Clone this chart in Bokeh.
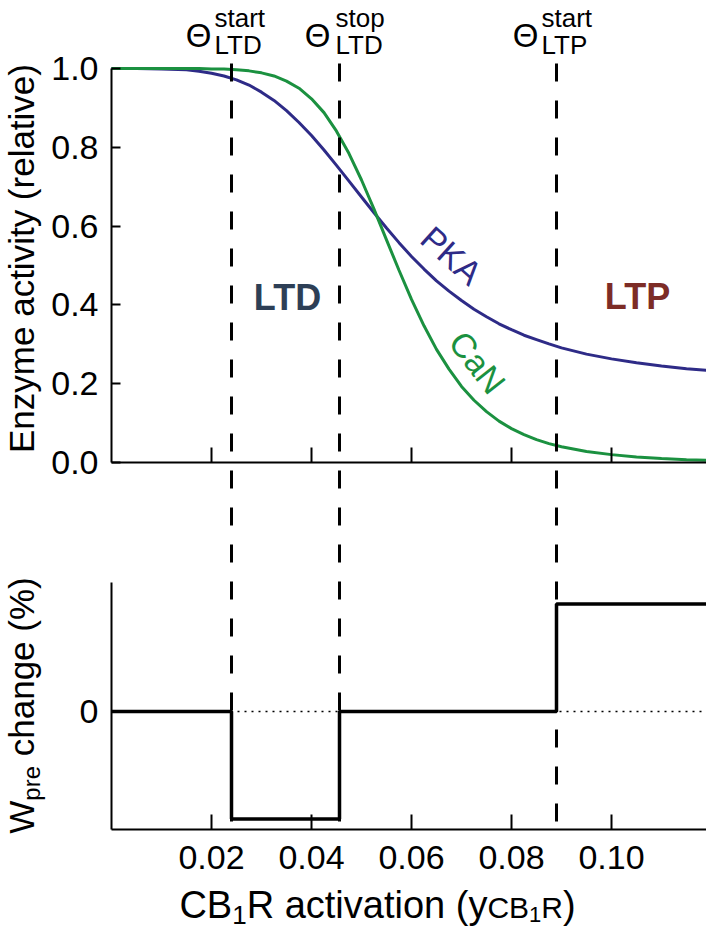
from math import pi
from bokeh.plotting import figure
from bokeh.models import (Range1d, FixedTicker, NumeralTickFormatter, Label,
                          ColumnDataSource, LinearAxis)
from bokeh.embed import file_html
from bokeh.resources import INLINE

# ---------------- data ----------------
x_act = [0.0, 0.005, 0.01, 0.015, 0.0175, 0.02, 0.0225, 0.025, 0.0275, 0.03,
         0.0325, 0.035, 0.0375, 0.04, 0.0425, 0.045, 0.0475, 0.05, 0.0525, 0.055,
         0.0575, 0.06, 0.0625, 0.065, 0.0675, 0.07, 0.0725, 0.075, 0.0775, 0.08,
         0.0825, 0.085, 0.0875, 0.09, 0.095, 0.10, 0.105, 0.11, 0.115, 0.119]
pka = [1.0, 1.0, 0.999, 0.997, 0.993, 0.988, 0.981, 0.971, 0.958, 0.940,
       0.919, 0.893, 0.863, 0.830, 0.793, 0.754, 0.714, 0.674, 0.634, 0.595,
       0.558, 0.523, 0.491, 0.461, 0.435, 0.411, 0.389, 0.370, 0.352, 0.337,
       0.323, 0.312, 0.301, 0.291, 0.275, 0.263, 0.253, 0.245, 0.238, 0.234]
can = [1.0, 1.0, 1.0, 1.0, 1.0, 0.999, 0.999, 0.997, 0.994, 0.989,
       0.981, 0.968, 0.950, 0.923, 0.888, 0.841, 0.784, 0.717, 0.643, 0.565,
       0.488, 0.414, 0.347, 0.287, 0.237, 0.193, 0.158, 0.129, 0.105, 0.086,
       0.071, 0.058, 0.048, 0.040, 0.028, 0.020, 0.014, 0.010, 0.007, 0.006]
theta_x = [0.024, 0.0456, 0.089]
theta_sup = ["start", "stop", "start"]
theta_sub = ["LTD", "LTD", "LTP"]
w_levels = [0, -1, 0, 1]          # W_pre change in each region
x_end = 0.119
x_ticks = [0.02, 0.04, 0.06, 0.08, 0.10]
y_ticks = [0.0, 0.2, 0.4, 0.6, 0.8, 1.0]
w_ticks = [0]
w_bounds = (-1.1, 1.2)

# ---------------- styles / layout ----------------
FONT = "Liberation Sans"
PKA_C = "#2E2B87"
CAN_C = "#1B9140"
LTD_C = "#2D3F56"
LTP_C = "#7D2C26"

WIDTH, HEIGHT = 706, 930
X0, PXX = 111, 5000.0      # picture x of x = 0, px per unit
A_Y0, A_PY = 462, 394.0    # picture y of activity 0, px per unit
B_Y0, B_PY = 711, 107.5    # picture y of W change 0, px per unit


def dx(px):
    return (px - X0) / PXX


def ay(py):
    return (A_Y0 - py) / A_PY


def by(py):
    return (B_Y0 - py) / B_PY


AW = {'C': 722, 'B': 667, 'R': 722, ' ': 278, 'a': 556, 'c': 500, 't': 278, 'i': 222,
      'v': 500, 'o': 556, 'n': 556, '(': 333, ')': 333, 'y': 500, '1': 556, 'W': 944,
      'p': 556, 'r': 333, 'e': 556, 'h': 556, 'g': 556, '%': 889}


def tw(s, size):
    return sum(AW[c] for c in s) * size / 1000.0


p = figure(width=WIDTH, height=HEIGHT,
           x_range=Range1d(dx(0), dx(WIDTH)), y_range=Range1d(ay(HEIGHT), ay(0)),
           x_axis_location=None, y_axis_location=None,
           output_backend="svg", toolbar_location=None,
           min_border_left=0, min_border_right=0, min_border_top=0, min_border_bottom=0)
p.extra_y_ranges = {"w": Range1d(by(HEIGHT), by(0))}
p.outline_line_color = None
p.grid.grid_line_color = None


def make_axis(**kw):
    ax = LinearAxis(**kw)
    ax.axis_line_width = 2
    ax.axis_line_color = "black"
    ax.major_tick_line_width = 2
    ax.major_tick_line_color = "black"
    ax.minor_tick_line_color = None
    ax.major_tick_out = 0
    ax.major_label_text_font = FONT
    ax.major_label_text_font_size = "34px"
    ax.major_label_text_color = "black"
    return ax


# top panel axes
yA = make_axis(fixed_location=0, bounds=(0, 1), ticker=FixedTicker(ticks=y_ticks),
               formatter=NumeralTickFormatter(format="0.0"))
yA.major_tick_in = 9
yA.major_label_standoff = 13
p.add_layout(yA, "left")

xA = make_axis(fixed_location=0, bounds=(0, x_end), ticker=FixedTicker(ticks=x_ticks))
xA.major_tick_in = 15
xA.major_label_text_color = None
xA.major_label_standoff = 0
p.add_layout(xA, "below")

# bottom panel axes
xB = make_axis(y_range_name="w", fixed_location=w_bounds[0], bounds=(0, x_end),
               ticker=FixedTicker(ticks=x_ticks),
               formatter=NumeralTickFormatter(format="0.00"))
xB.major_tick_in = 15
xB.major_label_standoff = 16
p.add_layout(xB, "below")

yB = make_axis(y_range_name="w", fixed_location=0, bounds=w_bounds,
               ticker=FixedTicker(ticks=w_ticks))
yB.major_tick_in = 8
yB.major_label_standoff = 13
p.add_layout(yB, "left")

# curves
src = ColumnDataSource(dict(x=x_act, pka=pka, can=can))
p.line("x", "pka", source=src, line_color=PKA_C, line_width=3)
p.line("x", "can", source=src, line_color=CAN_C, line_width=3)

# threshold dashed lines through both panels
n = len(theta_x)
p.segment(x0=theta_x, x1=theta_x, y0=[ay(63)] * n,
          y1=[ay(B_Y0 - w_bounds[0] * B_PY)] * n,
          line_color="black", line_width=3, line_dash="18 19")

# bottom panel: zero reference and step
p.segment(x0=[0], x1=[x_end], y0=[0], y1=[0], y_range_name="w",
          line_color="black", line_width=1.5, line_dash="2 5")
step_x = [0.0] + theta_x + [x_end]
step_y = w_levels + [w_levels[-1]]
p.step(step_x, step_y, mode="after", y_range_name="w", line_color="black", line_width=3.5)


def lab(**kw):
    kw.setdefault("text_font", FONT)
    kw.setdefault("text_color", "black")
    kw.setdefault("text_baseline", "middle")
    p.add_layout(Label(**kw))


MID = 0.3  # em offset from alphabetic baseline to the middle of the em box

# axis titles (rotated, baseline at picture x = 31)
lab(x=dx(31 - MID * 35), y=ay(258), text="Enzyme activity (relative)", angle=pi / 2,
    text_align="center", text_font_size="35px")

ylab = [("W", 35, 0), ("pre", 24, 7), (" change (%)", 35, 0)]
py = 705 + sum(tw(s, f) for s, f, _ in ylab) / 2
for s, f, sh in ylab:
    lead = tw(s[:len(s) - len(s.lstrip())], f)
    lab(x=dx(31 + sh - MID * f), y=ay(py - lead), text=s.strip(), angle=pi / 2,
        text_align="left", text_font_size=f"{f}px")
    py -= tw(s, f)

xlab = [("CB", 38, 0), ("1", 26, 6), ("R activation (y", 38, 0), ("CB", 30, 0),
        ("1", 22, 5), ("R", 30, 0), (")", 38, 0)]
px = 377 - sum(tw(s, f) for s, f, _ in xlab) / 2
for s, f, sh in xlab:
    lab(x=dx(px), y=ay(916 + sh - MID * f), text=s, text_align="left",
        text_font_size=f"{f}px")
    px += tw(s, f)

# threshold labels
theta_off = [-20, -9, -18]
sub_off = [-17, -4, -15]
for i in range(n):
    lab(x=theta_x[i], y=ay(35), x_offset=theta_off[i], text="Θ",
        text_align="right", text_font_size="33px")
    lab(x=theta_x[i], y=ay(17), x_offset=sub_off[i], text=theta_sup[i],
        text_align="left", text_font_size="26px")
    lab(x=theta_x[i], y=ay(44), x_offset=sub_off[i], text=theta_sub[i],
        text_align="left", text_font_size="26px")

# region and curve labels
lab(x=dx(287), y=ay(297), text="LTD", text_align="center",
    text_font_style="bold", text_font_size="36px", text_color=LTD_C)
lab(x=dx(637), y=ay(296), text="LTP", text_align="center",
    text_font_style="bold", text_font_size="36px", text_color=LTP_C)
lab(x=dx(451), y=ay(255), text="PKA", angle=-42 * pi / 180, text_align="center",
    text_font_size="34px", text_color=PKA_C)
lab(x=dx(477), y=ay(362), text="CaN", angle=-52 * pi / 180, text_align="center",
    text_font_size="34px", text_color=CAN_C)

open("out.html", "w").write(file_html(p, INLINE))
